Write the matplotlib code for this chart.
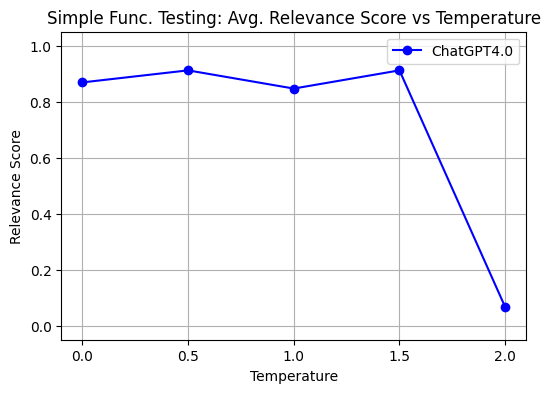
import matplotlib
matplotlib.use('Agg')
import matplotlib.pyplot as plt

temperatures = [0.0, 0.5, 1.0, 1.5, 2.0]
scores = [0.869, 0.912, 0.847, 0.912, 0.067]

plt.figure(figsize=(6, 4))
plt.plot(temperatures, scores, marker='o', color='blue', label='ChatGPT4.0')
plt.title('Simple Func. Testing: Avg. Relevance Score vs Temperature')
plt.xlabel('Temperature')
plt.ylabel('Relevance Score')
plt.xticks(temperatures)
plt.ylim(-0.05, 1.05)
plt.grid(True)
plt.legend()
plt.savefig('out.png', dpi=100, bbox_inches='tight')
